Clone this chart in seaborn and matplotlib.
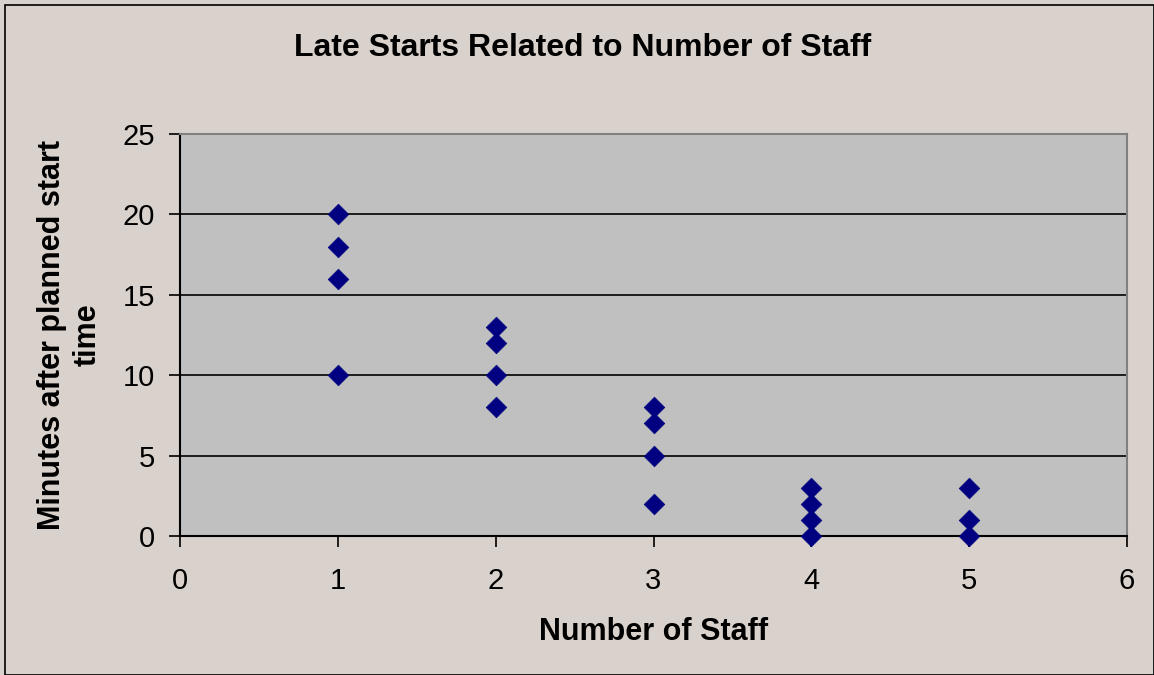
import matplotlib
matplotlib.use("Agg")
import matplotlib.pyplot as plt
import seaborn as sns
import pandas as pd
from matplotlib.patches import Rectangle

# Observations: number of staff on shift vs. minutes late
staff = [1, 1, 1, 1, 2, 2, 2, 2, 3, 3, 3, 3, 4, 4, 4, 4, 5, 5, 5]
minutes_late = [20, 18, 16, 10, 13, 12, 10, 8, 8, 7, 5, 2, 3, 2, 1, 0, 3, 1, 0]

x_ticks = [0, 1, 2, 3, 4, 5, 6]
y_ticks = [0, 5, 10, 15, 20, 25]

df = pd.DataFrame({"staff": staff, "minutes": minutes_late})

sns.set_style("white")
plt.rcParams["font.family"] = ["Liberation Sans", "DejaVu Sans"]
plt.rcParams["text.color"] = "black"
plt.rcParams["axes.labelcolor"] = "black"

fig = plt.figure(figsize=(11.54, 6.75), dpi=100)
fig.patch.set_facecolor("#D9D1CB")
fig.patches.append(Rectangle((5 / 1154, 0), 1 - 5 / 1154, 1 - 5 / 675,
                             transform=fig.transFigure, fill=False,
                             edgecolor="black", linewidth=1.2, zorder=10))

ax = fig.add_axes([180 / 1154, 1 - 536 / 675, (1127 - 180) / 1154, (536 - 134) / 675])
ax.set_facecolor("#C0C0C0")

sns.scatterplot(data=df, x="staff", y="minutes", ax=ax, marker="D", s=110,
                color="#000080", edgecolor="#000080", linewidth=0.5, zorder=3,
                clip_on=False)

ax.set_xlim(0, 6)
ax.set_ylim(0, 25)
ax.set_xticks(x_ticks)
ax.set_yticks(y_ticks)
ax.tick_params(axis="both", labelsize=21, length=8, width=1.2, direction="out",
               colors="black", labelcolor="black")
ax.tick_params(axis="x", bottom=True, pad=14)
ax.tick_params(axis="y", left=True, pad=10)

for y in y_ticks[1:-1]:
    ax.axhline(y, color="black", linewidth=1.2, zorder=1)

ax.spines["left"].set_color("black")
ax.spines["bottom"].set_color("black")
ax.spines["top"].set_color("#808080")
ax.spines["right"].set_color("#808080")
for s in ax.spines.values():
    s.set_linewidth(1.5)

ax.set_xlabel("Number of Staff", fontsize=22, fontweight="bold", labelpad=16)
ax.set_ylabel("Minutes after planned start\ntime", fontsize=22, fontweight="bold",
              labelpad=14, linespacing=1.25)
fig.text(583 / 1154, 1 - 48 / 675, "Late Starts Related to Number of Staff",
         ha="center", va="center", fontsize=23, fontweight="bold")

fig.savefig("out.png", dpi=100, facecolor=fig.get_facecolor())
